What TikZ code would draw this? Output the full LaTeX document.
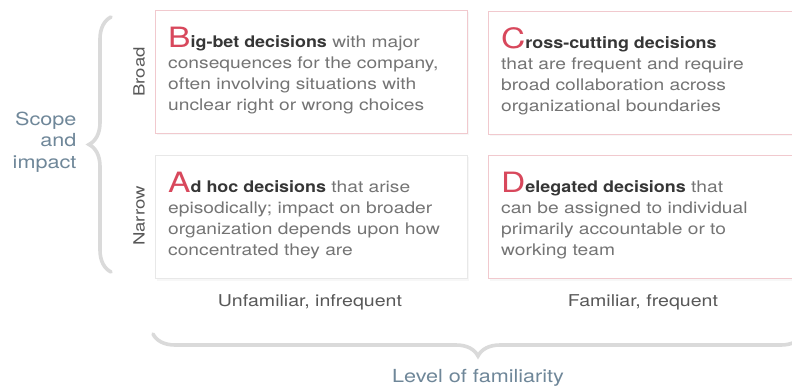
\documentclass[tikz,border=0pt]{standalone}
\usepackage{fontspec}
\setmainfont{TeX Gyre Heros}[FakeStretch=1.2,BoldFeatures={FakeStretch=1.12}]
\usetikzlibrary{decorations.pathreplacing}
\usetikzlibrary{shadows}
\definecolor{capred}{HTML}{D8485C}
\definecolor{cardpink}{HTML}{F1C9CE}
\definecolor{cardgray}{HTML}{E8E8E8}
\definecolor{bodygray}{HTML}{747474}
\definecolor{headdark}{HTML}{363636}
\definecolor{axisblue}{HTML}{6F8799}
\definecolor{bracegray}{HTML}{DADADA}
\definecolor{labelgray}{HTML}{585858}
\newcommand{\capletter}[1]{{\fontsize{28}{21}\selectfont\color{capred}#1}}
\newcommand{\headword}[1]{{\color{headdark}\bfseries #1}}

\begin{document}
\begin{tikzpicture}[x=1pt,y=-1pt,
  card/.style={draw=cardpink,fill=white,line width=1pt,anchor=north west,inner sep=0pt,
    minimum width=312pt,minimum height=123pt,
    drop shadow={opacity=0.06,shadow xshift=1pt,shadow yshift=-2pt}},
  graycard/.style={card,draw=cardgray},
  cardtext/.style={anchor=north west,align=left,inner sep=0pt,
    font=\fontsize{16}{21}\selectfont,text=bodygray},
  rowlabel/.style={rotate=90,font=\fontsize{15.5}{18}\selectfont,text=labelgray},
  collabel/.style={font=\fontsize{16.3}{18}\selectfont,text=labelgray},
  axislabel/.style={align=right,font=\fontsize{18}{21.5}\selectfont,text=axisblue},
  bracket/.style={draw=bracegray,line width=3.6pt,line cap=round,decorate,
    decoration={brace,amplitude=22pt}}]
\useasboundingbox[fill=white] (0,0) rectangle (792,390);
% the four cards
\node[card] (bigbet) at (155,10) {};
\node[card,minimum width=330pt] (crosscut) at (488,11) {};
\node[graycard] (adhoc) at (155,155) {};
\node[card,minimum width=330pt] (delegated) at (488,155) {};
\node[cardtext] (bigbet text) at (168,27)
  {\capletter{B}\headword{ig-bet decisions} with major\\
   consequences for the company,\\
   often involving situations with\\
   unclear right or wrong choices};
\node[cardtext] (crosscut text) at (501,27)
  {\capletter{C}\headword{ross-cutting decisions}\\
   that are frequent and require\\
   broad collaboration across\\
   organizational boundaries};
\node[cardtext] (adhoc text) at (168,172)
  {\capletter{A}\headword{d hoc decisions} that arise\\
   episodically; impact on broader\\
   organization depends upon how\\
   concentrated they are};
\node[cardtext] (delegated text) at (501,172)
  {\capletter{D}\headword{elegated decisions} that\\
   can be assigned to individual\\
   primarily accountable or to\\
   working team};
% axis labels
\node[rowlabel] (broad) at (139,72) {Broad};
\node[rowlabel] (narrow) at (139,216) {Narrow};
\node[collabel] (unfamiliar) at (310,302) {Unfamiliar, infrequent};
\node[collabel] (familiar) at (643,302) {Familiar, frequent};
\node[axislabel,anchor=east] (scope) at (80,142) {Scope\\and\\impact};
\node[axislabel] (familiarity) at (478,378) {Level of familiarity};
% braces
\coordinate (scope top) at (111,17);
\coordinate (scope bottom) at (111,272);
\coordinate (fam left) at (153,334);
\coordinate (fam right) at (803,334);
\draw[bracket] (scope bottom) -- (scope top);
\draw[bracket] (fam right) -- (fam left);
\end{tikzpicture}
\end{document}
